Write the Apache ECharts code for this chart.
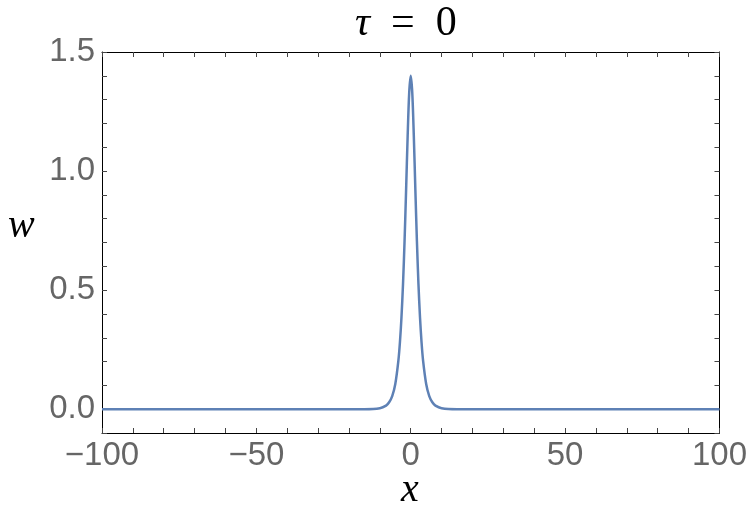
<!DOCTYPE html>
<html>
<head>
<meta charset="utf-8">
<script src="https://cdn.jsdelivr.net/npm/echarts@6/dist/echarts.min.js"></script>
<style>html,body{margin:0;padding:0;background:#fff;}#c{width:750px;height:520px;}</style>
</head>
<body>
<div id="c"></div>
<script>
// Data
var xValues = [-100, -15, -10, -8, -7, -6, -5, -4, -3.5, -3, -2.5, -2, -1.5, -1, -0.5, 0, 0.5, 1, 1.5, 2, 2.5, 3, 3.5, 4, 5, 6, 7, 8, 10, 15, 100];
var wValues = [0, 0.0001, 0.004, 0.015, 0.029, 0.055, 0.106, 0.204, 0.281, 0.386, 0.526, 0.706, 0.921, 1.146, 1.328, 1.4, 1.328, 1.146, 0.921, 0.706, 0.526, 0.386, 0.281, 0.204, 0.106, 0.055, 0.029, 0.015, 0.004, 0.0001, 0];
var xTickLabels = [-100, -50, 0, 50, 100];
var yTickLabels = [0.0, 0.5, 1.0, 1.5];
var titleText = 'τ';
var titleRest = '= 0';
var xName = 'x';
var yName = 'w';

var seriesData = xValues.map(function (x, i) { return [x, wValues[i]]; });

function fmtX(v) {
  var r = Math.round(v);
  if (xTickLabels.indexOf(r) < 0 || Math.abs(v - r) > 1e-6) return '';
  return r < 0 ? '\u2212' + Math.abs(r) : String(r);
}
function fmtY(v) {
  for (var i = 0; i < yTickLabels.length; i++) {
    if (Math.abs(v - yTickLabels[i]) < 1e-6) return yTickLabels[i].toFixed(1);
  }
  return '';
}

var frameColor = '#000';
var tickStyle = { show: true, inside: true, length: 5, lineStyle: { color: '#444', width: 1 } };
var labelStyle = { color: '#666', fontFamily: 'Liberation Sans', fontSize: 33 };

var chart = echarts.init(document.getElementById('c'), null, { renderer: 'canvas' });
chart.setOption({
  backgroundColor: '#fff',
  animation: false,
  title: {
    text: '{i|' + titleText + '}{n|  ' + titleRest.replace(' ', '  ') + '}',
    left: 355,
    top: 3,
    textStyle: {
      fontWeight: 'normal',
      rich: {
        i: { fontFamily: 'Liberation Serif', fontStyle: 'italic', fontWeight: 'normal', fontSize: 42, color: '#000' },
        n: { fontFamily: 'Liberation Serif', fontWeight: 'normal', fontSize: 42, color: '#000' }
      }
    },
    padding: 0
  },
  grid: { left: 102, right: 30, top: 52, bottom: 87, containLabel: false },
  xAxis: [
    {
      type: 'value', min: -100, max: 100, interval: 10, position: 'bottom',
      axisLine: { show: true, onZero: false, lineStyle: { color: frameColor, width: 1 } },
      axisTick: tickStyle,
      axisLabel: Object.assign({ formatter: fmtX, margin: 6, showMinLabel: true, showMaxLabel: true, hideOverlap: false }, labelStyle),
      splitLine: { show: false }
    },
    {
      type: 'value', min: -100, max: 100, interval: 10, position: 'top',
      axisLine: { show: true, onZero: false, lineStyle: { color: frameColor, width: 1 } },
      axisTick: tickStyle,
      axisLabel: { show: false },
      splitLine: { show: false }
    }
  ],
  yAxis: [
    {
      type: 'value', min: -0.1, max: 1.5, interval: 0.1, position: 'left',
      axisLine: { show: true, onZero: false, lineStyle: { color: frameColor, width: 1 } },
      axisTick: tickStyle,
      axisLabel: Object.assign({ formatter: fmtY, margin: 7, showMinLabel: true, showMaxLabel: true, hideOverlap: false }, labelStyle),
      splitLine: { show: false }
    },
    {
      type: 'value', min: -0.1, max: 1.5, interval: 0.1, position: 'right',
      axisLine: { show: true, onZero: false, lineStyle: { color: frameColor, width: 1 } },
      axisTick: tickStyle,
      axisLabel: { show: false },
      splitLine: { show: false }
    }
  ],
  graphic: [
    {
      type: 'text', left: 8, top: 206,
      style: { text: yName, fontFamily: 'Liberation Serif', fontStyle: 'italic', fontSize: 40, fill: '#000' }
    },
    {
      type: 'text', left: 401, top: 470,
      style: { text: xName, fontFamily: 'Liberation Serif', fontStyle: 'italic', fontSize: 40, fill: '#000' }
    }
  ],
  series: [
    {
      type: 'line',
      xAxisIndex: 0, yAxisIndex: 0,
      data: seriesData,
      smooth: 0.3,
      showSymbol: false,
      symbol: 'none',
      lineStyle: { color: '#5E81B5', width: 2.5 },
      clip: true
    }
  ]
});
</script>
</body>
</html>
